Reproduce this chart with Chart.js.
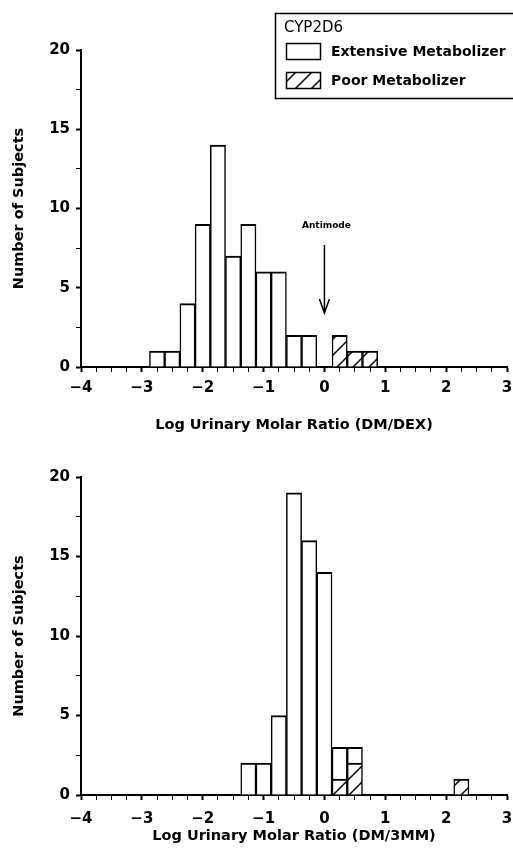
<!DOCTYPE html>
<html>
<head>
<meta charset="utf-8">
<script src="https://cdn.jsdelivr.net/npm/chart.js@4/dist/chart.umd.min.js"></script>
<style>
  html, body { margin: 0; padding: 0; background: #fff; }
  canvas { display: block; }
</style>
</head>
<body>
<canvas id="dex-chart" width="513" height="440"></canvas>
<canvas id="mm-chart" width="513" height="426"></canvas>
<script>
// Histogram bins (log ratio, bin width 0.25) and counts per phenotype
const dexBins = [-2.75, -2.5, -2.25, -2, -1.75, -1.5, -1.25, -1, -0.75, -0.5, -0.25, 0, 0.25, 0.5, 0.75];
const dexExtensive = [1, 1, 4, 9, 14, 7, 9, 6, 6, 2, 2, 0, 0, 0, 0];
const dexPoor = [0, 0, 0, 0, 0, 0, 0, 0, 0, 0, 0, 0, 2, 1, 1];

const mmBins = [-1.25, -1, -0.75, -0.5, -0.25, 0, 0.25, 0.5, 0.75, 1, 1.25, 1.5, 1.75, 2, 2.25];
const mmExtensive = [2, 2, 5, 19, 16, 14, 2, 1, 0, 0, 0, 0, 0, 0, 0];
const mmPoor = [0, 0, 0, 0, 0, 0, 1, 2, 0, 0, 0, 0, 0, 0, 1];

const xTicks = [-4, -3, -2, -1, 0, 1, 2, 3];
const yTicks = [0, 5, 10, 15, 20];

const antimode = { x: 0, label: 8.9, from: 7.7, to: 3.4 };

const FONT = 'DejaVu Sans';

function hatchPattern() {
    const size = 16;
    const c = document.createElement('canvas');
    c.width = c.height = size;
    const g = c.getContext('2d');
    g.fillStyle = '#fff';
    g.fillRect(0, 0, size, size);
    g.strokeStyle = '#000';
    g.lineWidth = 1.5;
    g.beginPath();
    g.moveTo(0, size); g.lineTo(size, 0);
    g.moveTo(-2, 2); g.lineTo(2, -2);
    g.moveTo(size - 2, size + 2); g.lineTo(size + 2, size - 2);
    g.stroke();
    return g.createPattern(c, 'repeat');
}
const hatch = hatchPattern();

function points(bins, counts) {
    return bins.map((b, i) => ({ x: b, y: counts[i] }));
}

function minus(v) {
    return v < 0 ? '\u2212' + Math.abs(v) : String(v);
}

function buildChart(id, bins, em, pm, o) {
    const barStyle = {
        borderColor: '#000',
        borderWidth: { top: 2, left: 1.5, right: 1.5, bottom: 0 },
        borderSkipped: 'start',
        barPercentage: 1,
        categoryPercentage: 1
    };
    return new Chart(document.getElementById(id), {
        type: 'bar',
        data: {
            datasets: [
                Object.assign({ label: 'Poor Metabolizer', data: points(bins, pm), backgroundColor: hatch }, barStyle),
                Object.assign({ label: 'Extensive Metabolizer', data: points(bins, em), backgroundColor: '#fff' }, barStyle)
            ]
        },
        options: {
            responsive: false,
            animation: false,
            devicePixelRatio: 1,
            layout: { padding: { top: o.top, right: 6, left: 0, bottom: 0 } },
            plugins: { legend: { display: false }, tooltip: { enabled: false } },
            scales: {
                x: {
                    type: 'linear',
                    stacked: true,
                    offset: false,
                    min: -4,
                    max: 3,
                    afterFit: s => {
                        s.height = o.xHeight;
                        s.paddingLeft = 0;
                        s.paddingRight = 0;
                    },
                    afterBuildTicks: s => {
                        const t = [];
                        for (let v = -4; v <= 3; v += 0.25) t.push({ value: v });
                        s.ticks = t;
                    },
                    border: { color: '#000', width: 2 },
                    grid: {
                        display: true,
                        drawOnChartArea: false,
                        offset: false,
                        tickLength: 5,
                        tickColor: '#000',
                        tickWidth: c => xTicks.includes(c.tick.value) ? 2 : 1
                    },
                    ticks: {
                        autoSkip: false,
                        maxRotation: 0,
                        padding: o.xPad,
                        color: '#000',
                        font: { family: FONT, size: 15, weight: 'bold' },
                        callback: v => xTicks.includes(v) ? minus(v) : ''
                    },
                    title: {
                        display: true,
                        text: o.title,
                        color: '#000',
                        font: { family: FONT, size: 14.5, weight: 'bold' },
                        padding: { top: 0, bottom: o.titlePad }
                    }
                },
                y: {
                    stacked: true,
                    min: 0,
                    max: 20,
                    afterFit: s => { s.width = 81; },
                    afterBuildTicks: s => {
                        const t = [];
                        for (let v = 0; v <= 20; v += 2.5) t.push({ value: v });
                        s.ticks = t;
                    },
                    border: { color: '#000', width: 2 },
                    grid: {
                        display: true,
                        drawOnChartArea: false,
                        tickLength: 5,
                        tickColor: '#000',
                        tickWidth: c => yTicks.includes(c.tick.value) ? 2 : 1
                    },
                    ticks: {
                        autoSkip: false,
                        padding: 6,
                        color: '#000',
                        font: { family: FONT, size: 15, weight: 'bold' },
                        callback: v => yTicks.includes(v) ? String(v) : ''
                    },
                    title: {
                        display: true,
                        text: 'Number of Subjects',
                        color: '#000',
                        font: { family: FONT, size: 14.5, weight: 'bold' },
                        padding: { top: 11, bottom: 0 }
                    }
                }
            }
        },
        plugins: o.plugins || []
    });
}

// Legend box in the upper right plus the antimode arrow
const dexExtras = {
    id: 'dexExtras',
    afterDraw(chart) {
        const ctx = chart.ctx;
        const xs = chart.scales.x, ys = chart.scales.y;
        ctx.save();

        // antimode marker
        const ax = xs.getPixelForValue(antimode.x);
        ctx.fillStyle = '#000';
        ctx.font = 'bold 9px ' + FONT;
        ctx.textAlign = 'center';
        ctx.textBaseline = 'middle';
        ctx.fillText('Antimode', ax + 2, ys.getPixelForValue(antimode.label));
        const y0 = ys.getPixelForValue(antimode.from);
        const y1 = ys.getPixelForValue(antimode.to);
        ctx.strokeStyle = '#000';
        ctx.lineWidth = 1.5;
        ctx.beginPath();
        ctx.moveTo(ax, y0); ctx.lineTo(ax, y1);
        ctx.moveTo(ax - 5, y1 - 14); ctx.lineTo(ax, y1); ctx.lineTo(ax + 5, y1 - 14);
        ctx.stroke();

        // legend frame (runs off the right edge)
        ctx.lineWidth = 1.5;
        ctx.beginPath();
        ctx.moveTo(513, 13.5); ctx.lineTo(275.5, 13.5); ctx.lineTo(275.5, 98.5); ctx.lineTo(513, 98.5);
        ctx.stroke();

        ctx.textAlign = 'left';
        ctx.font = '15px ' + FONT;
        ctx.fillText('CYP2D6', 284, 28);

        ctx.lineWidth = 1.5;
        ctx.fillStyle = '#fff';
        ctx.fillRect(286.5, 43.5, 34, 16);
        ctx.strokeRect(286.5, 43.5, 34, 16);
        ctx.fillStyle = hatch;
        ctx.fillRect(286.5, 72.5, 34, 16);
        ctx.strokeRect(286.5, 72.5, 34, 16);

        ctx.fillStyle = '#000';
        ctx.font = 'bold 14px ' + FONT;
        ctx.fillText('Extensive Metabolizer', 331, 52);
        ctx.fillText('Poor Metabolizer', 331, 81);
        ctx.restore();
    }
};

buildChart('dex-chart', dexBins, dexExtensive, dexPoor, {
    top: 50, xHeight: 73, xPad: 7, titlePad: 6,
    title: 'Log Urinary Molar Ratio (DM/DEX)',
    plugins: [dexExtras]
});

buildChart('mm-chart', mmBins, mmExtensive, mmPoor, {
    top: 37, xHeight: 71, xPad: 10, titlePad: 21,
    title: 'Log Urinary Molar Ratio (DM/3MM)'
});
</script>
</body>
</html>
